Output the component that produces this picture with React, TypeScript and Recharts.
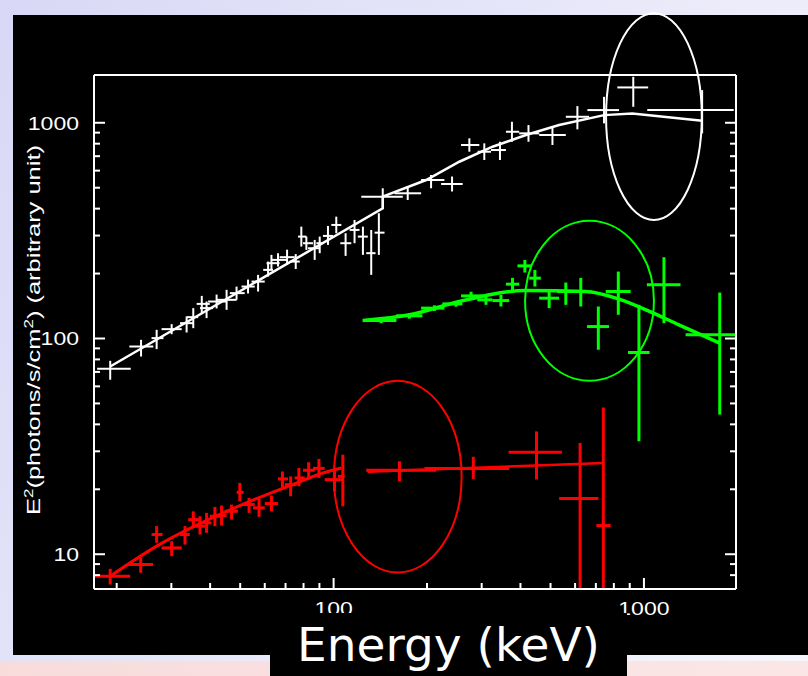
import React from 'react';
import {
  ComposedChart,
  XAxis,
  YAxis,
  Scatter,
  Line,
  ErrorBar,
  ReferenceArea,
} from 'recharts';

// each point: [energy, energyLow, energyHigh, flux, fluxLow, fluxHigh]
const whitePoints = [
  [19.06, 17.3, 22.2, 72.4, 64.4, 78.8],
  [23.96, 21.97, 26.24, 91.8, 82.5, 98.6],
  [26.9, 25.9, 28.3, 100.4, 89.3, 109.7],
  [30.07, 27.9, 32.4, 110.5, 104.7, 116.6],
  [33.6, 32.0, 35.3, 117.8, 106.6, 126.5],
  [35.3, 33.6, 36.6, 125.6, 111.7, 138.3],
  [37.6, 36.2, 39.9, 144.7, 131.1, 157.6],
  [38.96, 37.1, 40.9, 138.3, 124.3, 148.4],
  [41.97, 39.4, 45.2, 148.4, 137.8, 159.8],
  [45.2, 42.0, 48.7, 151.1, 135.8, 168.1],
  [48.67, 46.3, 51.7, 162.3, 151.4, 174],
  [53.0, 50.5, 55.7, 174.1, 161.7, 187.5],
  [57.1, 54.4, 60.0, 183.6, 165.1, 197.2],
  [61.5, 59.3, 63.8, 208.0, 193.6, 227.3],
  [63.05, 60.8, 67.0, 223.4, 208.0, 244.1],
  [66.2, 63.0, 70.5, 231.4, 215.5, 248.5],
  [70.8, 67.0, 74.9, 238.2, 219.9, 258],
  [75.5, 72.2, 77.8, 227.3, 209.9, 246.2],
  [78.7, 76.8, 81.7, 296.7, 266.7, 330],
  [81.7, 79.7, 85.8, 276.5, 257.5, 297],
  [86.9, 82.7, 90.2, 262.1, 231.4, 286.4],
  [90.2, 88.0, 92.4, 276.5, 248.6, 296.7],
  [95.9, 92.4, 99.5, 298.9, 271.6, 332.5],
  [102, 98.3, 105.9, 336, 307.6, 367.1],
  [109.3, 105.1, 114, 276.5, 241.5, 307.6],
  [116.8, 112.6, 121.2, 318.6, 276.5, 354.4],
  [124.3, 119.7, 128.9, 296.7, 244.1, 330],
  [132.2, 127.4, 136.5, 248.6, 197.2, 318.6],
  [139.9, 135.5, 145.9, 309.5, 244.1, 380.7],
  [144, 122.8, 167.1, 454.3, 401.6, 496.9],
  [173.3, 157.1, 191.4, 471.1, 438.6, 505.4],
  [206.1, 191.4, 227.5, 542.9, 496.9, 572.7],
  [240.8, 222, 260.5, 520.2, 480.3, 563.4],
  [273.8, 257.4, 294.8, 788.6, 734.3, 847],
  [305.9, 291.1, 321.5, 734.2, 672, 803],
  [343.6, 321.5, 359.2, 747.5, 672, 816.6],
  [375.5, 359.2, 396.3, 908.5, 816.6, 1010.7],
  [424.6, 396.3, 459.7, 893.2, 816.6, 975.9],
  [507.2, 459.7, 560.1, 877.4, 788.6, 958.3],
  [610.3, 560.1, 665.7, 1066, 931.9, 1194.6],
  [743.7, 657.3, 831, 1145, 993.6, 1319],
  [923.9, 820.6, 1032, 1458, 1186, 1633],
  [1540, 1025, 1947, 1145, 893, 1417],
];

const greenPoints = [
  [142.3, 124, 159.4, 121.2, 117.8, 124.7],
  [175.5, 159, 193.3, 127.4, 123.6, 131.3],
  [211.3, 191.4, 227.5, 138.3, 134.2, 142.5],
  [248, 224.1, 259.9, 144.7, 140.4, 149.1],
  [277.3, 257.4, 301.4, 157.6, 150.8, 164.7],
  [309.7, 290.4, 324.6, 151.1, 143.2, 159.4],
  [346.1, 324.6, 368, 149.9, 140.7, 159.4],
  [377.2, 359.2, 396.3, 178.6, 165.1, 191],
  [413.4, 391.3, 432.2, 217.1, 202.1, 231.4],
  [445.3, 426.8, 465.4, 190.4, 174.1, 208],
  [494.9, 459.7, 533, 153.8, 138.3, 168.1],
  [560.1, 525.2, 595.6, 165.1, 143.2, 181.7],
  [625.9, 586.9, 665.7, 165.1, 140.7, 191],
  [712.9, 655.8, 771.8, 113.6, 88.7, 140.7],
  [826.8, 753.2, 906.3, 165.1, 128.8, 204.3],
  [963.6, 888.5, 1043, 86.1, 33.4, 143.2],
  [1160, 1022, 1312, 177.3, 117.8, 238.2],
  [1755, 1362, 1972, 104, 44.4, 163.3],
];

const redPoints = [
  [19.06, 17.04, 22.1, 7.91, 7.24, 8.56],
  [23.9, 21.8, 26.2, 8.96, 8.2, 9.62],
  [26.9, 25.9, 28.1, 12.34, 11.29, 13.5],
  [30.07, 27.9, 32.4, 10.7, 9.79, 11.49],
  [33.2, 32.0, 34.4, 12.34, 11.09, 13.5],
  [35.3, 34.0, 37.1, 14.47, 13.25, 15.8],
  [37.1, 35.7, 38.5, 13.48, 12.34, 15.0],
  [38.96, 37.6, 40.4, 13.98, 12.57, 15.55],
  [41.45, 39.9, 43.0, 15.0, 13.48, 16.57],
  [43.55, 42.0, 45.2, 15.11, 13.58, 16.81],
  [46.9, 44.6, 49.2, 15.82, 14.47, 16.98],
  [49.86, 48.7, 51.3, 19.36, 17.6, 21.4],
  [53.4, 51.1, 55.7, 16.99, 15.55, 18.24],
  [57.5, 55.0, 60.0, 16.4, 14.9, 18.05],
  [63.05, 60.0, 66.2, 17.17, 15.8, 18.7],
  [68.4, 66.2, 71.3, 22.34, 20.3, 24.2],
  [72.7, 69.6, 75.9, 21.02, 18.56, 22.96],
  [77.3, 74.9, 80.7, 22.58, 20.65, 25.1],
  [83.1, 79.7, 86.9, 24.5, 22.2, 26.7],
  [89.7, 85.8, 93.6, 25.0, 22.58, 27.66],
  [100.7, 93.6, 107.1, 22.17, 19.57, 24.66],
  [107.1, 103.2, 108.5, 22.96, 16.68, 28.94],
  [163, 127.4, 213.9, 24.5, 21.78, 26.96],
  [281.9, 196.2, 368, 25.0, 22.34, 28.3],
  [450.6, 366.3, 543.8, 29.7, 22.2, 37.1],
  [622.6, 533, 713.1, 18.11, 6.9, 32.8],
  [739.8, 702.5, 781.4, 13.58, 6.9, 47.9],
];

// model curves: [energy, flux]
const whiteModel = [
  [19.06, 74.2], [144, 401.6], [144, 454.3], [198.7, 542.9], [254.2, 659.7],
  [325.3, 774.3], [416.6, 877.4], [533, 975.9], [743.7, 1085], [917, 1105], [1540, 1021],
];
const greenModel = [
  [124.3, 121.2], [175.5, 128.8], [254, 148.4], [416.5, 166.8], [649.3, 165.1],
  [831, 152.2], [1063, 131.9], [1296, 115.7], [1755, 95.2],
];
const redModelLow = [
  [19.06, 7.91], [26.9, 10.9], [49.86, 16.81], [72.2, 20.8], [92.4, 23.8], [105.9, 25.1],
];
const redModelHigh = [[128.6, 24.15], [743.7, 26.5]];

// highlight rings: [energyFrom, energyTo, fluxFrom, fluxTo]
const whiteRing = [755, 1536, 354, 3222];
const greenRing = [414, 1077, 63.7, 351];
const redRing = [100.2, 258.5, 8.23, 63.7];

const xTicks = [20, 30, 40, 50, 60, 70, 80, 90, 100, 200, 300, 400, 500, 600, 700, 800, 900, 1000];
const yTicks = [8, 9, 10, 20, 30, 40, 50, 60, 70, 80, 90, 100, 200, 300, 400, 500, 600, 700, 800, 900, 1000];
const labelled = [10, 100, 1000];

const xDomain = [16.9, 1980];
const yDomain = [6.9, 1665];

const toScatter = (pts: number[][]) =>
  pts.map(([e, elo, ehi, f, flo, fhi]) => ({
    x: e,
    y: f,
    ex: [e - elo, ehi - e],
    ey: [f - flo, fhi - f],
  }));
const toLine = (pts: number[][]) => pts.map(([x, y]) => ({ x, y }));

const FONT = '"Liberation Sans", Arial, sans-serif';

const makeTick = (side: 'left' | 'right' | 'top' | 'bottom') => (props: any) => {
  const { x, y, payload } = props;
  const v = payload.value;
  const major = labelled.includes(v);
  const len = major ? 11 : 6;
  const label = String(v);
  let line;
  if (side === 'left') line = <line x1={x} y1={y} x2={x + len} y2={y} />;
  else if (side === 'right') line = <line x1={x} y1={y} x2={x - len} y2={y} />;
  else if (side === 'top') line = <line x1={x} y1={y} x2={x} y2={y + len} />;
  else line = <line x1={x} y1={y} x2={x} y2={y - len} />;
  return (
    <g>
      <g stroke="#fff" strokeWidth={2}>{line}</g>
      {major && side === 'left' && (
        <text x={x - 15} y={y} dy="0.36em" textAnchor="end" fill="#fff" fontSize={19}
          fontFamily={FONT} textLength={label.length * 12.8} lengthAdjust="spacingAndGlyphs">
          {label}
        </text>
      )}
      {major && side === 'bottom' && (
        <text x={x} y={y + 19} dy="0.36em" textAnchor="middle" fill="#fff" fontSize={19}
          fontFamily={FONT} textLength={label.length * 12.8} lengthAdjust="spacingAndGlyphs">
          {label}
        </text>
      )}
    </g>
  );
};

const YTitle = () => (
  <text
    transform="translate(40, 330) rotate(-90)"
    textAnchor="middle"
    fill="#fff"
    fontSize={18}
    fontFamily={FONT}
    textLength={370}
    lengthAdjust="spacingAndGlyphs"
  >
    E<tspan dy={-7} fontSize={12}>2</tspan>
    <tspan dy={7}>(photons/s/cm</tspan>
    <tspan dy={-7} fontSize={12}>2</tspan>
    <tspan dy={7}>) (arbitrary unit)</tspan>
  </text>
);

const ring = (color: string) => (p: any) => (
  <ellipse
    cx={p.x + p.width / 2}
    cy={p.y + p.height / 2}
    rx={Math.abs(p.width) / 2}
    ry={Math.abs(p.height) / 2}
    fill="none"
    stroke={color}
    strokeWidth={2}
  />
);

const noDot = () => <g />;

const axisCommon = {
  type: 'number' as const,
  scale: 'log' as const,
  allowDataOverflow: true,
  interval: 0 as const,
  tickSize: 0,
  tickMargin: 0,
  tickLine: false,
  axisLine: { stroke: '#fff', strokeWidth: 2 },
};

const series = [
  { pts: whitePoints, color: '#ffffff', w: 2 },
  { pts: greenPoints, color: '#00ff00', w: 3 },
  { pts: redPoints, color: '#ff0000', w: 3 },
];

const App = () => {
  return (
    <div
      style={{
        position: 'absolute',
        left: 0,
        top: 0,
        width: 808,
        height: 676,
        overflow: 'hidden',
        background: 'linear-gradient(120deg, #d8d8f6 0%, #ebebfa 60%, #f6f6fd 100%)',
      }}
    >
      <div
        style={{
          position: 'absolute',
          left: 0,
          top: 661,
          width: 808,
          height: 15,
          background: 'linear-gradient(to right, #f8dcdc, #fbe6e6)',
        }}
      />
      <div
        style={{ position: 'absolute', left: 13, top: 15, width: 795, height: 640, background: '#000' }}
      />
      <div style={{ position: 'absolute', left: 0, top: 0 }}>
        <ComposedChart width={808} height={676} margin={{ top: 74, right: 71, bottom: 86, left: 93 }}>
          <XAxis {...axisCommon} xAxisId={0} dataKey="x" orientation="bottom" height={1}
            domain={xDomain} ticks={xTicks} tick={makeTick('bottom')} />
          <XAxis {...axisCommon} xAxisId="top" orientation="top" height={1}
            domain={xDomain} ticks={xTicks} tick={makeTick('top')} />
          <YAxis {...axisCommon} yAxisId={0} dataKey="y" orientation="left" width={1}
            domain={yDomain} ticks={yTicks} tick={makeTick('left')} label={<YTitle />} />
          <YAxis {...axisCommon} yAxisId="right" orientation="right" width={1}
            domain={yDomain} ticks={yTicks} tick={makeTick('right')} />

          <ReferenceArea x1={whiteRing[0]} x2={whiteRing[1]} y1={whiteRing[2]} y2={whiteRing[3]}
            ifOverflow="visible" shape={ring('#ffffff')} />
          <ReferenceArea x1={greenRing[0]} x2={greenRing[1]} y1={greenRing[2]} y2={greenRing[3]}
            ifOverflow="visible" shape={ring('#00ff00')} />
          <ReferenceArea x1={redRing[0]} x2={redRing[1]} y1={redRing[2]} y2={redRing[3]}
            ifOverflow="visible" shape={ring('#ff0000')} />

          {series.map((s, i) => (
            <Scatter key={i} data={toScatter(s.pts)} dataKey="y" shape={noDot} isAnimationActive={false}>
              <ErrorBar dataKey="ex" direction="x" width={0} stroke={s.color} strokeWidth={s.w}
                isAnimationActive={false} />
              <ErrorBar dataKey="ey" direction="y" width={0} stroke={s.color} strokeWidth={s.w}
                isAnimationActive={false} />
            </Scatter>
          ))}

          <Line data={toLine(whiteModel)} dataKey="y" type="linear" dot={false} activeDot={false}
            stroke="#ffffff" strokeWidth={2.5} isAnimationActive={false} />
          <Line data={toLine(greenModel)} dataKey="y" type="monotone" dot={false} activeDot={false}
            stroke="#00ff00" strokeWidth={3.5} isAnimationActive={false} />
          <Line data={toLine(redModelLow)} dataKey="y" type="monotone" dot={false} activeDot={false}
            stroke="#ff0000" strokeWidth={3} isAnimationActive={false} />
          <Line data={toLine(redModelHigh)} dataKey="y" type="linear" dot={false} activeDot={false}
            stroke="#ff0000" strokeWidth={2.5} isAnimationActive={false} />
        </ComposedChart>
      </div>
      <div
        style={{
          position: 'absolute',
          left: 270,
          top: 613,
          width: 357,
          height: 63,
          background: '#000',
          color: '#fff',
          fontFamily: '"DejaVu Sans", sans-serif',
          fontSize: 47,
          lineHeight: '63px',
          textAlign: 'center',
        }}
      >
        Energy (keV)
      </div>
    </div>
  );
};

export default App;
